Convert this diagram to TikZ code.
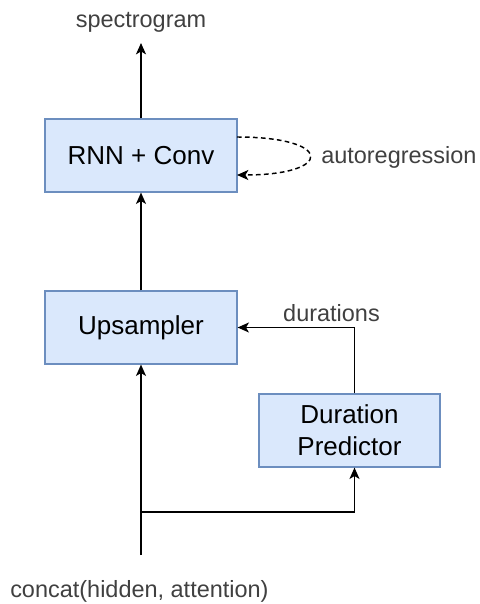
\documentclass[tikz,border=0pt]{standalone}
\usepackage{fontspec}
\setmainfont{Liberation Sans}
\usetikzlibrary{arrows.meta}
\definecolor{boxfill}{HTML}{DAE8FC}
\definecolor{boxdraw}{HTML}{6C8EBF}
\definecolor{labelgray}{HTML}{404040}
\begin{document}
\begin{tikzpicture}[x=0.75pt,y=-0.75pt,
  block/.style={draw=boxdraw, fill=boxfill, line width=0.9pt, minimum width=144pt,
    minimum height=54.75pt, inner sep=0pt, align=center,
    font=\fontsize{19.5}{24}\selectfont},
  lbl/.style={text=labelgray, font=\fontsize{17.6}{21}\selectfont, inner sep=0pt, anchor=base},
  conn/.style={line width=1.1pt, -{Stealth[length=8.5pt,width=7.5pt,inset=2.2pt]}},
  dashconn/.style={conn, dash pattern=on 3.5pt off 2.5pt}]
\useasboundingbox (0,0) rectangle (479,604);
% blocks
\node[block] (rnn) at (141,155.5) {RNN + Conv};
\node[block] (ups) at (141,327.5) {Upsampler};
\node[block, minimum width=135.75pt] (dp) at (349.5,430.5) {Duration\\Predictor};
% labels
\node[lbl] (spec) at (141,27) {spectrogram};
\node[lbl, anchor=base west] (ar) at (321,163) {autoregression};
\node[lbl] (dur) at (331.5,321) {durations};
\node[lbl, anchor=base west] (cc) at (10,597) {concat(hidden, attention)};
% coordinates
\coordinate (spectip) at (141,43);
\coordinate (inp) at (141,555);
\coordinate (branch) at (141,512);
\coordinate (arstart) at (237,137);
\coordinate (arend) at (237,175);
% connectors
\draw[conn] (rnn.north) -- (spectip);
\draw[conn] (ups.north) -- (rnn.south);
\draw[conn] (inp) -- (ups.south);
\draw[conn] (branch) -| ([xshift=3.75pt]dp.south);
\draw[conn] ([xshift=3.75pt]dp.north) |- (ups.east);
\draw[dashconn] (arstart) .. controls (334,137) and (334,175) .. (arend);
\end{tikzpicture}
\end{document}
